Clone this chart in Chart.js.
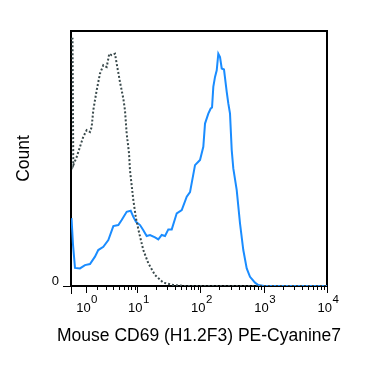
<!DOCTYPE html>
<html>
<head>
<meta charset="utf-8">
<script src="https://cdn.jsdelivr.net/npm/chart.js@4/dist/chart.umd.min.js"></script>
<style>
    html, body { margin: 0; padding: 0; background: #fff; }
    #wrap { width: 375px; height: 367px; }
</style>
</head>
<body>
<div id="wrap"><canvas id="histogram" width="375" height="367"></canvas></div>
<script>
// x values are display decades (biexponential channel), y is % of max count
const isotypeX = [0, 0.024, 0.036, 0.090, 0.142, 0.194, 0.248, 0.300, 0.327, 0.352, 0.406, 0.458, 0.511, 0.564,
    0.605, 0.643, 0.695, 0.722, 0.774, 0.827, 0.853, 0.880, 0.917, 0.932, 0.985, 1.027, 1.079, 1.143,
    1.222, 1.328, 1.459, 1.617, 1.80, 4.05];
const isotypeY = [97, 97, 47.4, 50.6, 54.6, 58.5, 61.1, 60.4, 62.4, 68.9, 76.8, 83.3, 86.6, 85.9,
    91.1, 90.5, 91.1, 87.2, 80.0, 73.5, 68.9, 59.8, 52.0, 45.4, 33.7, 26.5, 20.6, 14.1,
    8.9, 4.3, 1.3, 0.4, 0, 0];

const cd69X = [0.008, 0.032, 0.063, 0.142, 0.221, 0.300, 0.379, 0.431, 0.511, 0.590, 0.669, 0.748, 0.801,
    0.880, 0.944, 0.985, 1.027, 1.091, 1.143, 1.196, 1.249, 1.328, 1.380, 1.434, 1.486, 1.538, 1.592,
    1.671, 1.750, 1.829, 1.881, 1.960, 2.012, 2.039, 2.091, 2.118, 2.170, 2.208, 2.229, 2.249, 2.276,
    2.303, 2.328, 2.355, 2.382, 2.418, 2.461, 2.486, 2.513, 2.540, 2.565, 2.619, 2.671, 2.723, 2.777,
    2.829, 2.908, 2.960, 3.05, 4.05];
const cd69Y = [26.6, 16.1, 7.1, 6.9, 8.2, 8.6, 11.5, 14.1, 15.4, 18.0, 23.5, 23.9, 25.9,
    29.1, 29.5, 27.1, 25.2, 23.9, 21.9, 19.6, 20.0, 19.1, 18.3, 20.0, 19.6, 22.2, 22.2,
    28.5, 29.8, 35.0, 36.8, 47.4, 48.7, 49.4, 54.6, 63.7, 67.6, 69.6, 70.0, 78.1, 82.0,
    84.6, 91.1, 89.8, 85.3, 84.9, 76.1, 71.6, 67.6, 53.3, 46.1, 37.6, 24.6, 14.1, 6.9,
    3.6, 1.3, 0.4, 0, 0];

const decadeValues = [1, 10, 100, 1000, 10000];
const decadeExponents = ['0', '1', '2', '3', '4'];
const minorMultipliers = [2, 3, 4, 5, 6, 7, 8, 9];
const yTickValues = [0];

const xTitle = 'Mouse CD69 (H1.2F3) PE-Cyanine7';
const yTitle = 'Count';
const FONT = '"Liberation Sans", Arial, Helvetica, sans-serif';

// biexponential-like display transform (intensity -> decades)
const WIDTH_BASIS = 1.8;
function toDisplay(v) {
    return Math.asinh(v / WIDTH_BASIS) / Math.LN10;
}

function toPoints(xs, ys) {
    return xs.map((x, i) => ({ x: x, y: ys[i] }));
}

// frame, decade ticks, 10^n labels and the x title (wider than the plot, so not a scale title)
const flowAxisPlugin = {
    id: 'flowAxis',
    beforeDatasetsDraw(chart) {
        const { ctx, chartArea: a, scales } = chart;
        const x = scales.x;
        ctx.save();
        ctx.strokeStyle = '#000';
        ctx.lineWidth = 2;
        ctx.strokeRect(a.left, a.top, a.right - a.left, a.bottom - a.top);

        ctx.lineWidth = 1;
        ctx.beginPath();
        const tick = (px, len) => {
            px = Math.round(px) + 0.5;
            ctx.moveTo(px, a.bottom);
            ctx.lineTo(px, a.bottom + len);
        };
        tick(x.getPixelForValue(0), 8);
        decadeValues.forEach((v, i) => {
            tick(x.getPixelForValue(toDisplay(v)), 7);
            if (i < decadeValues.length - 1) {
                minorMultipliers.forEach(m => tick(x.getPixelForValue(toDisplay(v * m)), 4));
            }
        });
        ctx.stroke();

        ctx.fillStyle = '#000';
        ctx.textBaseline = 'alphabetic';
        ctx.textAlign = 'left';
        decadeValues.forEach((v, i) => {
            const px = x.getPixelForValue(toDisplay(v));
            ctx.font = '13px ' + FONT;
            const baseW = ctx.measureText('10').width;
            ctx.font = '11.5px ' + FONT;
            const expW = ctx.measureText(decadeExponents[i]).width;
            const start = px + 1 - (baseW + expW) / 2;
            ctx.font = '13px ' + FONT;
            ctx.fillText('10', start, a.bottom + 26);
            ctx.font = '11.5px ' + FONT;
            ctx.fillText(decadeExponents[i], start + baseW + 0.5, a.bottom + 16.5);
        });

        ctx.font = '17.5px ' + FONT;
        ctx.textAlign = 'center';
        ctx.textBaseline = 'middle';
        ctx.fillText(xTitle, (a.left + a.right) / 2, a.bottom + 50);
        ctx.restore();
    }
};

const chart = new Chart(document.getElementById('histogram'), {
    type: 'line',
    data: {
        datasets: [
            {
                label: 'Isotype control',
                data: toPoints(isotypeX, isotypeY),
                borderColor: '#3a4a4c',
                borderWidth: 2,
                borderDash: [2, 2],
                pointRadius: 0,
                tension: 0,
                fill: false
            },
            {
                label: 'CD69',
                data: toPoints(cd69X, cd69Y),
                borderColor: '#1a8cff',
                borderWidth: 2,
                pointRadius: 0,
                tension: 0,
                fill: false
            }
        ]
    },
    options: {
        responsive: false,
        animation: false,
        events: [],
        layout: { padding: { top: 31, right: 48, bottom: 0, left: 0 } },
        plugins: {
            legend: { display: false },
            tooltip: { enabled: false }
        },
        scales: {
            x: {
                type: 'linear',
                min: 0,
                max: toDisplay(10000),
                grid: { display: false },
                border: { display: false },
                ticks: { display: false },
                title: { display: false },
                afterFit(scale) { scale.height = 81; }
            },
            y: {
                type: 'linear',
                min: 0,
                max: 100,
                afterBuildTicks(scale) {
                    scale.ticks = yTickValues.map(v => ({ value: v }));
                },
                grid: {
                    display: true,
                    drawOnChartArea: false,
                    tickLength: 8,
                    color: '#000',
                    lineWidth: 1
                },
                border: { display: false },
                ticks: {
                    color: '#000',
                    font: { family: FONT, size: 13 },
                    padding: 4,
                    labelOffset: -4.5,
                    callback: v => String(v)
                },
                title: {
                    display: true,
                    text: yTitle,
                    color: '#000',
                    font: { family: FONT, size: 17.5 },
                    padding: { top: 13.5, bottom: 0 }
                },
                afterFit(scale) { scale.width = 71; }
            }
        }
    },
    plugins: [flowAxisPlugin]
});
</script>
</body>
</html>
